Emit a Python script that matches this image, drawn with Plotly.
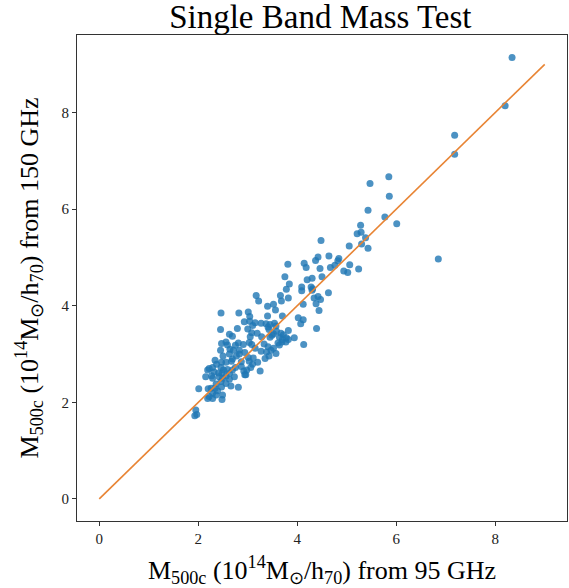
import plotly.graph_objects as go

# Mass from 95 GHz (x) and 150 GHz (y), units 1e14 Msun/h70
x95 = [8.34, 8.20, 7.18, 7.18, 5.85, 5.47, 5.86, 5.43, 5.77, 6.01, 5.28, 5.21, 5.29, 5.38, 5.05, 5.30, 5.43, 6.85,
       4.48, 4.64, 4.42, 4.37, 4.84, 4.82, 4.76, 4.67, 5.06, 4.94, 5.02, 5.24, 4.14, 4.18, 4.46, 3.81, 3.75, 3.84, 3.78,
       4.30, 4.20, 4.50, 4.09, 4.09, 4.28, 4.31, 4.30, 4.63, 3.66, 3.68, 3.82, 4.34, 4.42, 4.47, 4.12, 4.38, 4.44, 3.70,
       4.02, 4.12, 4.07, 4.39, 3.82, 3.67, 3.72, 3.78, 3.82, 3.94, 4.13, 3.77,
       3.17, 3.22, 3.40, 3.52, 3.56, 2.46, 2.82, 3.01, 3.04, 3.40, 2.93, 3.04, 3.15, 3.10, 3.27, 3.37, 3.45, 3.41, 3.54, 3.57,
       2.45, 2.79, 2.63, 2.69, 3.00, 3.08, 3.05, 3.19, 3.28, 3.43, 3.52, 3.58, 3.49, 3.45, 3.64, 3.70,
       2.56, 2.47, 2.59, 2.81, 2.75, 2.64, 2.71, 2.91, 3.03, 3.08, 3.15, 3.33, 3.41, 3.27, 3.61, 3.69, 3.64,
       2.45, 2.83, 2.83, 2.50, 2.63, 2.69, 2.77, 2.94, 3.01, 3.11, 3.38, 3.47, 3.52, 3.57, 3.35, 3.43,
       2.47, 2.34, 2.37, 2.56, 2.67, 2.87, 3.03, 3.10, 3.20, 3.25, 2.19, 2.29, 2.32, 2.46, 2.51, 2.41, 2.48,
       2.59, 2.69, 2.63, 2.75, 2.87, 2.92, 2.98, 3.06, 2.15, 2.29, 2.42, 2.49, 2.56, 2.63, 2.73, 2.96,
       2.81, 2.46, 2.36, 2.47, 2.56, 2.66, 2.01, 2.20, 2.26, 2.29, 2.22, 2.29, 2.19, 2.49, 2.48, 2.36, 2.39, 2.34,
       1.95, 1.97, 1.93, 2.94, 2.22, 2.27]
y150 = [9.14, 8.14, 7.53, 7.14, 6.67, 6.53, 6.27, 5.98, 5.84, 5.70, 5.67, 5.49, 5.52, 5.41, 5.24, 5.28, 5.19, 4.97,
        5.35, 5.03, 5.01, 4.94, 4.98, 4.93, 4.84, 4.79, 4.85, 4.72, 4.69, 4.76, 4.88, 4.79, 4.77, 4.86, 4.60, 4.45, 4.34,
        4.57, 4.54, 4.60, 4.39, 4.31, 4.39, 4.35, 4.32, 4.27, 4.21, 4.10, 4.16, 4.16, 4.19, 4.13, 4.03, 4.04, 3.90, 3.79,
        3.75, 3.71, 3.63, 3.53, 3.49, 3.43, 3.40, 3.34, 3.30, 3.34, 3.20, 3.25,
        4.21, 4.10, 3.99, 4.03, 3.91, 3.85, 3.85, 3.87, 3.78, 3.79, 3.67, 3.68, 3.65, 3.59, 3.64, 3.63, 3.61, 3.56, 3.64, 3.58,
        3.51, 3.53, 3.41, 3.37, 3.52, 3.44, 3.36, 3.43, 3.36, 3.51, 3.42, 3.47, 3.39, 3.35, 3.35, 3.30,
        3.25, 3.22, 3.19, 3.23, 3.18, 3.10, 3.08, 3.20, 3.24, 3.20, 3.12, 3.21, 3.15, 3.06, 3.23, 3.25, 3.19,
        3.08, 3.08, 3.00, 2.96, 3.00, 2.90, 2.96, 3.03, 2.93, 2.92, 3.04, 3.08, 3.12, 3.01, 2.91, 2.96,
        2.83, 2.87, 2.79, 2.83, 2.85, 2.84, 2.85, 2.79, 2.83, 2.65, 2.67, 2.72, 2.63, 2.72, 2.67, 2.61, 2.60,
        2.68, 2.67, 2.60, 2.72, 2.74, 2.65, 2.67, 2.72, 2.53, 2.50, 2.53, 2.50, 2.54, 2.48, 2.53, 2.57,
        2.31, 2.43, 2.38, 2.32, 2.39, 2.34, 2.28, 2.28, 2.29, 2.19, 2.12, 2.08, 2.08, 2.15, 2.06, 2.15, 2.24, 2.29,
        1.84, 1.75, 1.72, 2.57, 2.70, 2.55]

line_x = [0, 9]
line_y = [0, 9]

x_ticks = [0, 2, 4, 6, 8]
y_ticks = [0, 2, 4, 6, 8]

fig = go.Figure()
fig.add_trace(go.Scatter(x=x95, y=y150, mode="markers",
                         marker=dict(color="rgba(31,119,180,0.8)", size=7, line=dict(width=0)),
                         showlegend=False))
fig.add_trace(go.Scatter(x=line_x, y=line_y, mode="lines",
                         line=dict(color="rgb(232,132,52)", width=1.6), showlegend=False))

font_family = "Liberation Serif, Times New Roman, serif"
axis_common = dict(showgrid=False, zeroline=False, showline=True, mirror=True,
                   linecolor="#333333", linewidth=1.2, ticks="outside", ticklen=4,
                   tickwidth=1, tickcolor="#333333", automargin=False,
                   tickfont=dict(family=font_family, size=15, color="#222222"))

fig.update_layout(
    width=569, height=588,
    margin=dict(l=77, r=2, t=35, b=67),
    plot_bgcolor="white", paper_bgcolor="white",
    title=dict(text="Single Band Mass Test", x=0.563, xanchor="center", y=0.972, yanchor="middle",
               font=dict(family=font_family, size=33, color="black")),
    xaxis=dict(range=[-0.45, 9.45], tickvals=x_ticks,
               title=dict(text="M<sub>500c</sub> (10<sup>14</sup>M<sub>⊙</sub>/h<sub>70</sub>) from 95 GHz",
                          font=dict(family=font_family, size=26, color="black")),
               **axis_common),
    yaxis=dict(range=[-0.4575, 9.6075], tickvals=y_ticks,
               title=dict(text="M<sub>500c</sub> (10<sup>14</sup>M<sub>⊙</sub>/h<sub>70</sub>) from 150 GHz",
                          font=dict(family=font_family, size=26, color="black")),
               **axis_common),
)

fig.write_html("out.html", config={"displayModeBar": False},
               post_script="document.body.style.margin='0';document.body.style.overflow='hidden';")
